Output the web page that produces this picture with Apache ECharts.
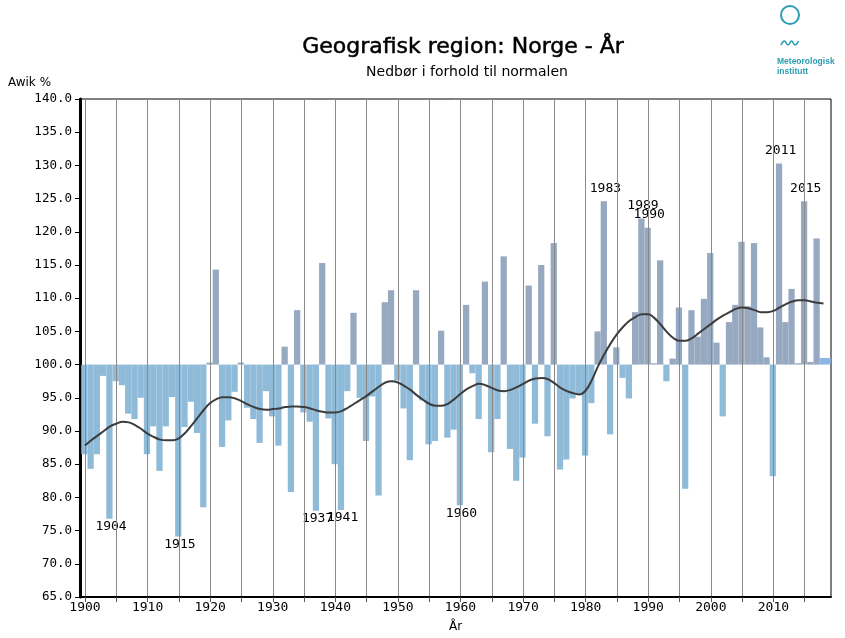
<!DOCTYPE html>
<html><head><meta charset="utf-8">
<script src="https://cdn.jsdelivr.net/npm/echarts@6/dist/echarts.min.js"></script>
<style>html,body{margin:0;padding:0;background:#fff}#c{width:845px;height:638px}</style>
</head><body><div id="c"></div>
<script>
// ---- data ----
const years = [1900,1901,1902,1903,1904,1905,1906,1907,1908,1909,1910,1911,1912,1913,1914,1915,1916,1917,1918,1919,
1920,1921,1922,1923,1924,1925,1926,1927,1928,1929,1930,1931,1932,1933,1934,1935,1936,1937,1938,1939,
1940,1941,1942,1943,1944,1945,1946,1947,1948,1949,1950,1951,1952,1953,1954,1955,1956,1957,1958,1959,
1960,1961,1962,1963,1964,1965,1966,1967,1968,1969,1970,1971,1972,1973,1974,1975,1976,1977,1978,1979,
1980,1981,1982,1983,1984,1985,1986,1987,1988,1989,1990,1991,1992,1993,1994,1995,1996,1997,1998,1999,
2000,2001,2002,2003,2004,2005,2006,2007,2008,2009,2010,2011,2012,2013,2014,2015,2016,2017,2018];
const precip = [86.5,84.3,86.5,98.3,76.8,97.5,96.9,92.6,91.8,95.0,86.5,90.7,84.0,90.7,95.1,74.1,90.6,94.4,89.7,78.5,
100.3,114.3,87.6,91.6,95.9,100.3,93.5,91.8,88.2,96.0,92.2,87.8,102.7,80.8,108.2,92.8,91.4,78.0,115.3,91.9,
85.0,78.1,96.0,107.8,95.0,88.5,95.2,80.3,109.4,111.2,97.6,93.4,85.6,111.2,94.6,88.0,88.5,105.1,89.0,90.2,
78.8,109.0,98.7,91.8,112.5,86.8,91.8,116.3,87.3,82.5,86.0,111.9,91.1,115.0,89.2,118.3,84.2,85.7,94.9,95.5,
86.3,94.2,105.0,124.6,89.5,102.6,98.0,94.9,107.9,122.0,120.6,100.2,115.7,97.5,100.9,108.6,81.3,108.2,104.2,109.9,
116.8,103.3,92.2,106.4,109.0,118.5,108.8,118.3,105.6,101.1,83.2,130.3,106.4,111.4,100.2,124.6,100.4,119.0,101.0];
const trend = [87.8,88.6,89.3,90.0,90.7,91.1,91.4,91.3,90.9,90.3,89.6,89.1,88.7,88.6,88.6,88.9,89.7,90.8,92.0,93.2,
94.2,94.8,95.1,95.1,94.9,94.5,94.0,93.6,93.3,93.2,93.3,93.4,93.6,93.7,93.7,93.6,93.4,93.1,92.9,92.8,
92.8,93.0,93.5,94.1,94.7,95.3,96.0,96.7,97.3,97.5,97.3,96.8,96.2,95.4,94.7,94.1,93.8,93.8,94.1,94.8,
95.6,96.3,96.8,97.1,96.9,96.5,96.1,96.0,96.2,96.6,97.1,97.6,97.9,98.0,97.8,97.2,96.5,96.0,95.7,95.5,
96.1,97.7,99.8,101.6,103.2,104.6,105.7,106.6,107.2,107.6,107.6,107.0,106.0,104.9,104.0,103.6,103.6,104.0,104.7,105.4,
106.1,106.8,107.4,107.9,108.4,108.6,108.5,108.2,107.9,107.9,108.1,108.6,109.1,109.5,109.7,109.7,109.5,109.3,109.2];
const labelledYears = [1904,1915,1937,1941,1960,1983,1989,1990,2011,2015];
const xLabelValues = [1900,1910,1920,1930,1940,1950,1960,1970,1980,1990,2000,2010];
const xGridValues = [1900,1905,1910,1915,1920,1925,1930,1935,1940,1945,1950,1955,1960,1965,1970,1975,1980,1985,1990,1995,2000,2005,2010,2015];
const titleText = 'Geografisk region: Norge - År';
const subtitleText = 'Nedbør i forhold til normalen';
const yAxisTitle = 'Awik %';
const xAxisTitle = 'År';
const logoLines = ['Meteorologisk', 'institutt'];

// ---- style ----
const BASE = 100, X_MIN = 1899.2, X_MAX = 2019.2;
const C_POS = '#96a9c0', C_NEG = '#8fbbd9', C_PART = '#8db6e6', TEAL = '#2a9db3';
const MONO = '"DejaVu Sans Mono", monospace';

const chart = echarts.init(document.getElementById('c'));
const barData = years.map((y, i) => [y, precip[i]]);
const trendData = years.map((y, i) => [y, trend[i]]);

chart.setOption({
  animation: false,
  backgroundColor: '#fff',
  grid: {left: 80, right: 14, top: 99, bottom: 35, show: true, borderColor: '#000', borderWidth: 1, backgroundColor: 'transparent'},
  xAxis: {
    type: 'value', min: X_MIN, max: X_MAX, z: 3,
    name: xAxisTitle, nameLocation: 'middle', nameGap: 24,
    nameTextStyle: {fontFamily: 'DejaVu Sans', fontSize: 12, color: '#000'},
    axisLine: {show: true, onZero: false, lineStyle: {color: '#000', width: 2}},
    axisTick: {show: true, length: 5, customValues: xGridValues, lineStyle: {color: '#555'}},
    axisLabel: {customValues: xLabelValues, fontFamily: MONO, fontSize: 13, color: '#000', margin: 4, formatter: v => String(Math.round(v))},
    splitLine: {show: true, lineStyle: {color: '#8a8a8a', width: 1}}
  },
  yAxis: [{
    type: 'value', min: 65, max: 140, interval: 5,
    axisLine: {show: true, lineStyle: {color: '#000', width: 3}},
    axisTick: {show: true, length: 5, lineStyle: {color: '#000'}},
    axisLabel: {fontFamily: MONO, fontSize: 12.5, color: '#000', margin: 8, formatter: v => v.toFixed(1)},
    splitLine: {show: false}
  }],
  series: [{
    type: 'custom', z: 2, clip: true,
    data: barData,
    renderItem: function (params, api) {
      const yr = api.value(0), v = api.value(1);
      const last = params.dataIndex === years.length - 1;
      const x0 = api.coord([yr - 0.6, BASE])[0];
      const x1 = last ? api.coord([X_MAX - 0.05, BASE])[0] : api.coord([yr + 0.4, BASE])[0];
      const yb = api.coord([yr, BASE])[1];
      const yv = api.coord([yr, v])[1];
      const fill = last ? C_PART : (v >= BASE ? C_POS : C_NEG);
      const children = [{type: 'rect', shape: {x: x0, y: Math.min(yb, yv), width: x1 - x0, height: Math.abs(yv - yb)}, style: {fill: fill}}];
      if (labelledYears.indexOf(yr) >= 0) {
        const xc = api.coord([yr, v])[0] + 1;
        children.push({type: 'text', z2: 10, style: {
          text: String(yr), x: xc, y: v >= BASE ? yv - 13 : yv + 8,
          align: 'center', verticalAlign: 'middle',
          font: '13px ' + MONO, fill: '#000'}});
      }
      return {type: 'group', children: children};
    }
  }, {
    type: 'line', z: 5, data: trendData, smooth: 0.4, symbol: 'none',
    lineStyle: {color: '#3c3c3c', width: 2}
  }],
  graphic: [
    {type: 'text', x: 463, y: 47, style: {text: titleText, font: '22px "DejaVu Sans"', fill: '#000', stroke: '#000', lineWidth: 0.5, align: 'center', verticalAlign: 'middle'}},
    {type: 'text', x: 467, y: 72, style: {text: subtitleText, font: '14px "DejaVu Sans"', fill: '#000', align: 'center', verticalAlign: 'middle'}},
    {type: 'text', x: 8, y: 83, style: {text: yAxisTitle, font: '12px "DejaVu Sans"', fill: '#000', align: 'left', verticalAlign: 'middle'}},
    {type: 'circle', shape: {cx: 790, cy: 15, r: 9}, style: {fill: 'none', stroke: TEAL, lineWidth: 2}},
    {type: 'polyline', shape: {points: [[781, 45], [784.5, 41], [788, 45], [791.5, 41], [795, 45], [798.5, 41]], smooth: 0.5}, style: {fill: 'none', stroke: TEAL, lineWidth: 1.6}},
    {type: 'text', x: 777, y: 62, style: {text: logoLines[0], font: 'bold 8.5px "Liberation Sans"', fill: TEAL, align: 'left', verticalAlign: 'middle'}},
    {type: 'text', x: 777, y: 72, style: {text: logoLines[1], font: 'bold 8.5px "Liberation Sans"', fill: TEAL, align: 'left', verticalAlign: 'middle'}}
  ]
});
</script></body></html>
